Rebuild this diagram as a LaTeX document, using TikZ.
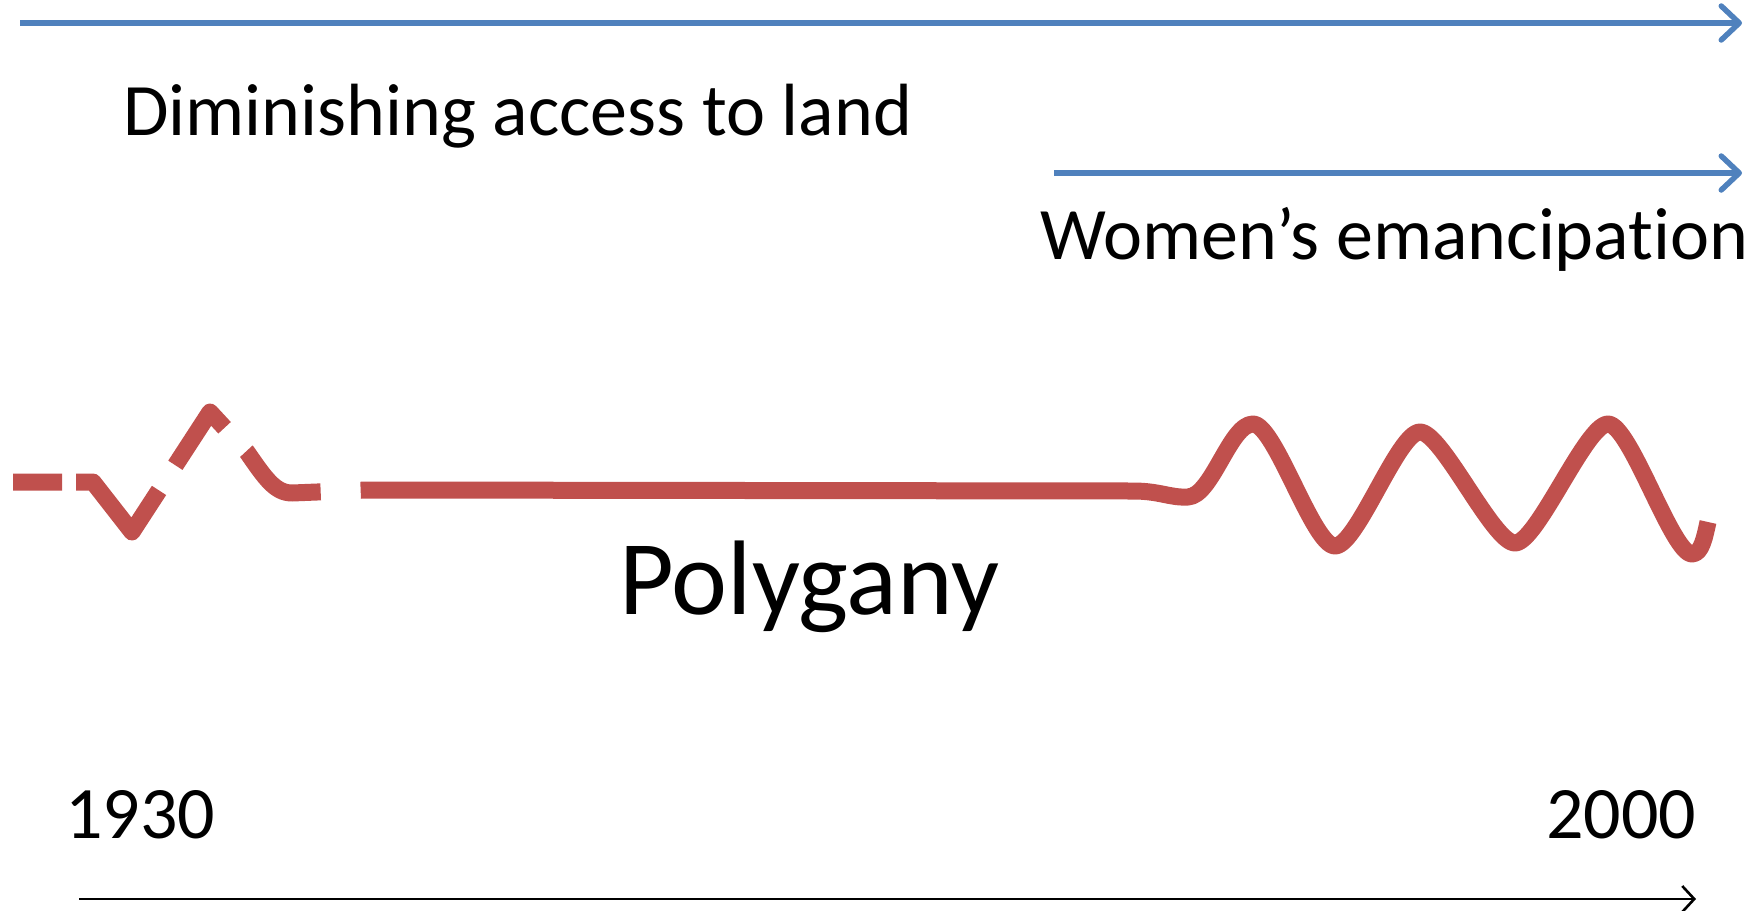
\documentclass[tikz,border=0pt]{standalone}
\usepackage{fontspec}
\setmainfont{Carlito}[Ligatures=NoCommon]
\usepackage{tikz}
\usetikzlibrary{arrows.meta}
\definecolor{trendblue}{RGB}{79,129,189}
\definecolor{polyred}{RGB}{192,80,77}

\begin{document}
\begin{tikzpicture}[x=1pt,y=-1pt]
	\tikzstyle{every node}+=[inner sep=0pt]
	\tikzstyle{trendarrow}=[trendblue, line width=5.5pt, -{Straight Barb[length=18pt,width=34pt,round]}]
	\tikzstyle{timearrow}=[black, line width=2.6pt, -{Straight Barb[length=12pt,width=26pt]}]
	\tikzstyle{redline}=[polyred, line width=17pt, line join=round]
	\tikzstyle{smalltext}=[font=\fontsize{74}{80}\selectfont]
	\tikzstyle{bigtext}=[font=\fontsize{106}{115}\selectfont]
	\useasboundingbox (0,0) rectangle (1758,910);
	\coordinate (landA) at (20,23);
	\coordinate (landB) at (1742,23);
	\coordinate (womenA) at (1054,173);
	\coordinate (womenB) at (1742,173);
	\coordinate (timeA) at (79,899);
	\coordinate (timeB) at (1696,899);
	\draw [trendarrow] (landA) -- (landB);
	\draw (123,135) node (land) [smalltext, anchor=base west] {Diminishing access to land};
	\draw [trendarrow] (womenA) -- (womenB);
	\draw (1040,259) node (women) [smalltext, anchor=base west] {Women’s emancipation};
	\draw [redline, dash pattern=on 49pt off 14pt on 130pt off 30pt on 85pt off 32pt on 93pt off 40pt on 5000pt] (13,482) -- (93,482) -- (132,532) -- (210,412) -- (247,452) .. controls (265,478) and (275,493) .. (292,493) -- (367,490) -- (1133,491) .. controls (1160,491) and (1170,498) .. (1188,497) .. controls (1212,496) and (1230,424) .. (1253,424) .. controls (1275,424) and (1313,546) .. (1335,546) .. controls (1357,546) and (1398,432) .. (1420,432) .. controls (1442,432) and (1493,543) .. (1515,543) .. controls (1537,543) and (1586,424) .. (1608,424) .. controls (1630,424) and (1672,554) .. (1692,554) .. controls (1702,554) and (1705,535) .. (1708,522);
	\draw (619,614) node (polygany) [bigtext, anchor=base west] {Polygany};
	\draw (65,838) node (start) [smalltext, anchor=base west] {1930};
	\draw (1546,838) node (end) [smalltext, anchor=base west] {2000};
	\draw [timearrow] (timeA) -- (timeB);
\end{tikzpicture}
\end{document}
